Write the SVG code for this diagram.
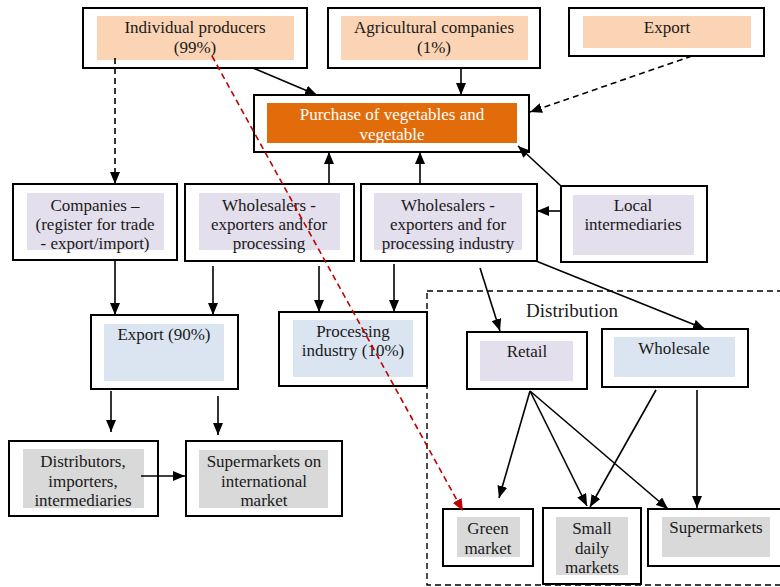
<svg xmlns="http://www.w3.org/2000/svg" width="780" height="587" viewBox="0 0 780 587">
  <defs>
    <marker id="ah" viewBox="0 0 12 10" refX="12" refY="5" markerWidth="12" markerHeight="10" markerUnits="userSpaceOnUse" orient="auto">
      <path d="M0,0 L12,5 L0,10 z" fill="#000"/>
    </marker>
    <marker id="ahRed" viewBox="0 0 12 10" refX="12" refY="5" markerWidth="12" markerHeight="10" markerUnits="userSpaceOnUse" orient="auto">
      <path d="M0,0 L12,5 L0,10 z" fill="#C00000"/>
    </marker>
    <style>
      .box { fill: #fff; stroke: #000; stroke-width: 2; }
      .peach { fill: #FAD4B4; }
      .orange { fill: #E36C0A; }
      .lav { fill: #E4DFEC; }
      .blue { fill: #DBE5F1; }
      .grey { fill: #D9D9D9; }
      text { font-size: 17px; fill: #1a1a1a; text-anchor: middle; }
      .white { fill: #fff; }
      .big { font-size: 19px; }
      .conn { fill: none; stroke: #000; stroke-width: 1.6; marker-end: url(#ah); }
      .dash { stroke-dasharray: 6 4; }
      .red { fill: none; stroke: #C00000; stroke-width: 1.6; stroke-dasharray: 6 4; marker-end: url(#ahRed); }
      .frame { fill: none; stroke: #000; stroke-width: 1.4; stroke-dasharray: 6 4; }
    </style>
  </defs>

  <g font-family="'Liberation Serif', 'DejaVu Serif', serif">
  <!-- distribution area outline -->
  <g id="distribution">
    <rect class="frame" x="427" y="291" width="360" height="294"/>
    <text class="big" x="572" y="317">Distribution</text>
  </g>

  <!-- producers and sources -->
  <g id="individual-producers">
    <rect class="box" x="83" y="8" width="224" height="60"/>
    <rect class="peach" x="97" y="16" width="197" height="44"/>
    <text x="195" y="33">Individual producers</text>
    <text x="195" y="53">(99%)</text>
  </g>
  <g id="agricultural-companies">
    <rect class="box" x="328" y="8" width="212" height="60"/>
    <rect class="peach" x="341" y="16" width="187" height="44"/>
    <text x="434" y="33">Agricultural companies</text>
    <text x="434" y="53">(1%)</text>
  </g>
  <g id="export-top">
    <rect class="box" x="569" y="8" width="195" height="48"/>
    <rect class="peach" x="583" y="16" width="168" height="32"/>
    <text x="667" y="33">Export</text>
  </g>
  <g id="purchase">
    <rect class="box" x="254" y="95" width="275" height="57"/>
    <rect class="orange" x="267" y="103" width="250" height="40"/>
    <text class="white" x="392" y="120">Purchase of vegetables and</text>
    <text class="white" x="392" y="140">vegetable</text>
  </g>

  <!-- buyers -->
  <g id="companies">
    <rect class="box" x="13" y="184" width="164" height="76"/>
    <rect class="lav" x="27" y="193" width="137" height="57"/>
    <text x="95" y="211">Companies –</text>
    <text x="95" y="230">(register for trade</text>
    <text x="95" y="249">- export/import)</text>
  </g>
  <g id="wholesalers-processing">
    <rect class="box" x="185" y="184" width="169" height="77"/>
    <rect class="lav" x="199" y="193" width="141" height="57"/>
    <text x="269" y="211">Wholesalers -</text>
    <text x="269" y="230">exporters and for</text>
    <text x="269" y="249">processing</text>
  </g>
  <g id="wholesalers-industry">
    <rect class="box" x="361" y="184" width="176" height="77"/>
    <rect class="lav" x="374" y="193" width="148" height="57"/>
    <text x="448" y="211">Wholesalers -</text>
    <text x="448" y="230">exporters and for</text>
    <text x="448" y="249">processing industry</text>
  </g>
  <g id="local-intermediaries">
    <rect class="box" x="561" y="186" width="146" height="76"/>
    <rect class="lav" x="573" y="195" width="121" height="60"/>
    <text x="633" y="211">Local</text>
    <text x="633" y="230">intermediaries</text>
  </g>

  <!-- channels -->
  <g id="export-90">
    <rect class="box" x="91" y="315" width="147" height="74"/>
    <rect class="blue" x="104" y="324" width="120" height="57"/>
    <text x="164" y="340">Export (90%)</text>
  </g>
  <g id="processing-industry">
    <rect class="box" x="279" y="312" width="148" height="74"/>
    <rect class="blue" x="293" y="320" width="120" height="57"/>
    <text x="353" y="337">Processing</text>
    <text x="353" y="356">industry (10%)</text>
  </g>
  <g id="distributors">
    <rect class="box" x="9" y="441" width="149" height="75"/>
    <rect class="grey" x="23" y="449" width="121" height="59"/>
    <text x="83" y="467">Distributors,</text>
    <text x="83" y="487">importers,</text>
    <text x="83" y="506">intermediaries</text>
  </g>
  <g id="supermarkets-international">
    <rect class="box" x="186" y="441" width="156" height="75"/>
    <rect class="grey" x="199" y="450" width="129" height="58"/>
    <text x="264" y="467">Supermarkets on</text>
    <text x="264" y="487">international</text>
    <text x="264" y="506">market</text>
  </g>
  <g id="retail">
    <rect class="box" x="467" y="332" width="120" height="57"/>
    <rect class="lav" x="480" y="341" width="93" height="40"/>
    <text x="527" y="357">Retail</text>
  </g>
  <g id="wholesale">
    <rect class="box" x="602" y="329" width="146" height="58"/>
    <rect class="blue" x="614" y="337" width="121" height="40"/>
    <text x="674" y="354">Wholesale</text>
  </g>
  <g id="green-market">
    <rect class="box" x="443" y="509" width="90" height="57"/>
    <rect class="grey" x="457" y="517" width="63" height="40"/>
    <text x="488" y="534">Green</text>
    <text x="488" y="554">market</text>
  </g>
  <g id="small-daily-markets">
    <rect class="box" x="543" y="508" width="98" height="76"/>
    <rect class="grey" x="556" y="517" width="72" height="58"/>
    <text x="592" y="534">Small</text>
    <text x="592" y="554">daily</text>
    <text x="592" y="573">markets</text>
  </g>
  <g id="supermarkets">
    <rect class="box" x="648" y="509" width="140" height="57"/>
    <rect class="grey" x="662" y="517" width="108" height="40"/>
    <text x="716" y="533">Supermarkets</text>
  </g>
  </g>

  <!-- connectors -->
  <g id="connectors">
    <line class="conn" x1="253" y1="68" x2="317" y2="95"/>
    <line class="conn" x1="461" y1="68" x2="461" y2="95"/>
    <line class="conn dash" x1="692" y1="56" x2="530" y2="112"/>
    <line class="conn" x1="561" y1="186" x2="518" y2="146"/>
    <line class="conn" x1="561" y1="211" x2="537" y2="211"/>
    <line class="conn" x1="329" y1="184" x2="329" y2="152"/>
    <line class="conn" x1="420" y1="184" x2="420" y2="152"/>
    <line class="conn dash" x1="115" y1="58" x2="115" y2="184"/>

    <line class="conn" x1="115" y1="260" x2="115" y2="315"/>
    <line class="conn" x1="213" y1="266" x2="213" y2="315"/>
    <line class="conn" x1="319" y1="266" x2="319" y2="312"/>
    <line class="conn" x1="394" y1="264" x2="394" y2="312"/>
    <line class="conn" x1="480" y1="268" x2="500" y2="331"/>
    <line class="conn" x1="536" y1="261" x2="705" y2="329"/>

    <line class="conn" x1="111" y1="391" x2="111" y2="432"/>
    <line class="conn" x1="218" y1="396" x2="218" y2="435"/>
    <line class="conn" x1="141" y1="476" x2="185" y2="476"/>

    <line class="conn" x1="530" y1="391" x2="499" y2="498"/>
    <line class="conn" x1="530" y1="391" x2="587" y2="506"/>
    <line class="conn" x1="530" y1="391" x2="668" y2="509"/>
    <line class="conn" x1="656" y1="390" x2="590" y2="507"/>
    <line class="conn" x1="697" y1="390" x2="697" y2="508"/>

    <line class="red" x1="212" y1="56" x2="463" y2="511"/>
  </g>
</svg>
